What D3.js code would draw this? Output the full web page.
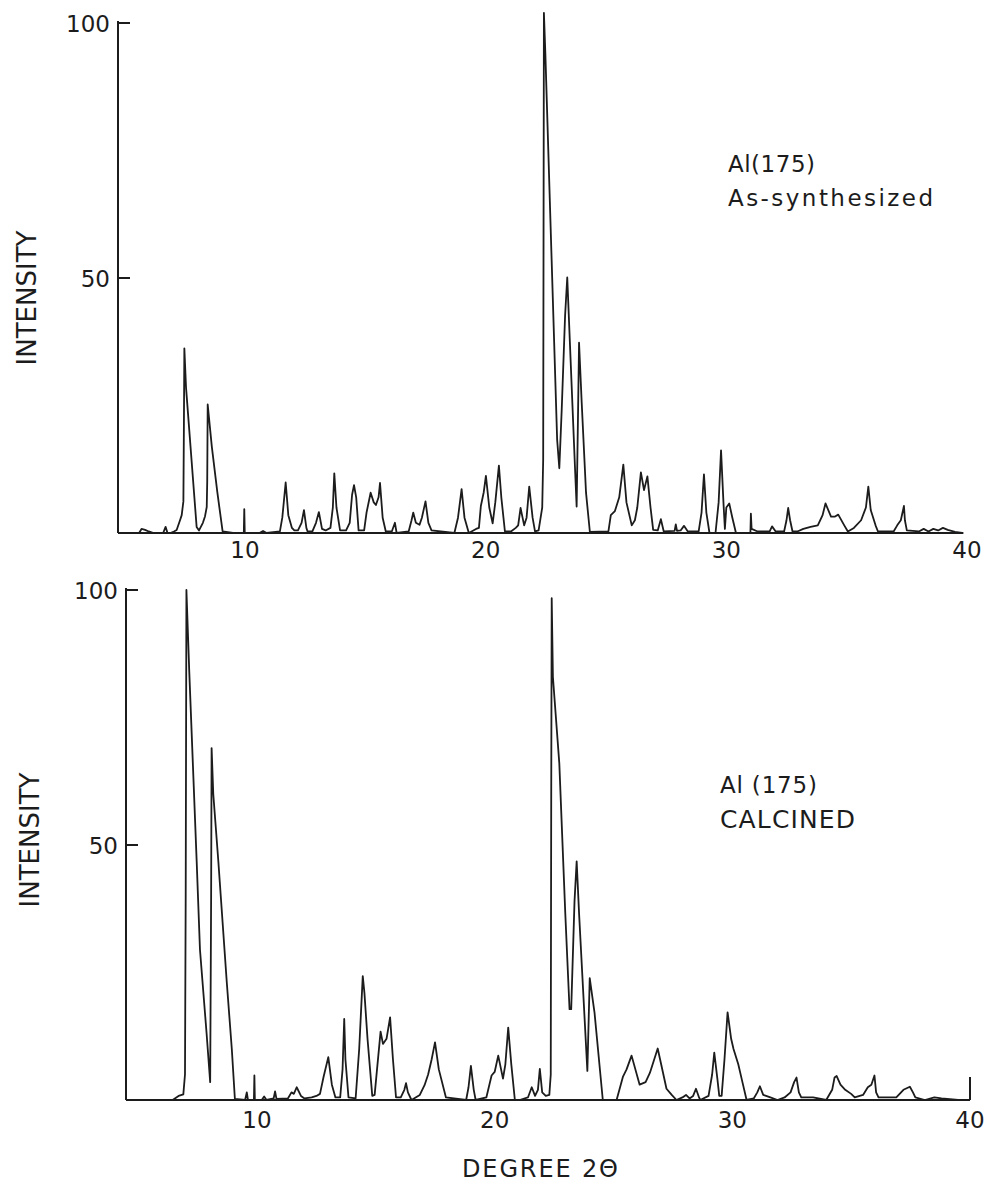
<!DOCTYPE html>
<html><head><meta charset="utf-8">
<script src="https://cdn.jsdelivr.net/npm/d3@7"></script>
<style>body{margin:0;background:#fff}svg{display:block}</style>
</head><body>
<svg id="chart" width="993" height="1184"></svg>
<script>
// ---- data (2-theta in degrees, relative intensity) ----
const xTickValues = [10, 20, 30, 40];
const yTickValues = [50, 100];

const asSynthesized = [
 [4.9,0],[5.6,0],[5.7,0.8],[5.85,0.6],[6.0,0.3],[6.2,0],[6.6,0],[6.7,1.2],[6.78,0],[6.9,0],
 [7.05,0.3],[7.16,0.6],[7.3,2.5],[7.37,3.5],[7.44,6.2],[7.46,20],[7.48,36.2],[7.55,28.5],[7.99,1.2],[8.09,0.5],[8.25,2],[8.34,3.3],[8.41,5.1],[8.43,10],[8.45,25.2],[8.62,17],[8.85,8],[9.07,0.3],
 [9.5,0],[9.95,0],[9.97,4.7],[9.99,0],[10.6,0],[10.75,0.4],[10.9,0],[11.45,0.3],
 [11.55,3],[11.69,9.9],[11.8,3.5],[11.95,1],[12.05,0.5],
 [12.2,0.5],[12.35,2],[12.45,4.5],[12.55,1],[12.6,0.3],
 [12.8,0.3],[12.95,2],[13.07,4.1],[13.2,0.8],[13.35,0.5],
 [13.55,1],[13.65,5],[13.71,11.7],[13.8,5],[13.95,0.5],
 [14.2,0.5],[14.35,2],[14.45,7.5],[14.53,9.4],[14.62,7],[14.72,0.5],
 [14.95,0.5],[15.05,4],[15.22,7.9],[15.35,6],[15.44,5.5],[15.55,7],[15.61,9.8],[15.72,3],[15.85,0.3],
 [16.1,0.3],[16.23,2],[16.3,0],
 [16.8,0.3],[16.92,2.5],[16.99,4],[17.1,2],[17.25,1.6],[17.35,3],[17.5,6.2],[17.62,2],[17.75,0.5],
 [18.7,0],[18.85,3],[19.0,8.6],[19.12,3],[19.3,0],
 [19.6,0.8],[19.72,1],[19.8,5.3],[19.92,8],[20.01,11.2],[20.15,5],[20.29,1.9],[20.4,6],[20.55,13.2],[20.65,7],[20.8,0.3],
 [21.05,0.3],[21.25,1],[21.35,1.5],[21.45,4.9],[21.6,1.5],[21.7,3],[21.81,9.1],[21.95,3],[22.05,0.3],
 [22.2,0.5],[22.35,5],[22.39,14.4],[22.42,102],[22.48,94],[22.74,53.7],[22.97,18.3],[23.06,12.7],
 [23.16,24.2],[23.3,42.6],[23.39,50.1],[23.5,37.3],[23.71,13],[23.78,5.2],[23.84,24],[23.88,37.3],[23.99,25.6],[24.17,7.9],[24.33,0.2],
 [25.1,0.3],[25.2,3.5],[25.37,4.3],[25.55,7],[25.72,13.4],[25.85,6],[26.07,1.5],[26.2,2.5],[26.3,5],[26.45,11.9],[26.58,8.4],[26.72,11.1],[26.85,5],[26.96,0.6],
 [27.15,0.5],[27.28,2.7],[27.4,0.3],
 [27.85,0.4],[27.9,1.7],[27.95,0.4],[28.1,0.5],[28.24,1.4],[28.4,0.3],
 [28.85,0.3],[28.97,4],[29.07,11.5],[29.17,4],[29.3,0],
 [29.55,0],[29.68,6],[29.78,16.2],[29.88,6],[29.94,0.8],[30.0,5],[30.12,5.8],[30.25,3],[30.4,0],
 [31.0,0],[31.02,3.8],[31.05,0.8],[31.3,0.3],[31.8,0.3],[31.9,1.3],[32.05,0.3],
 [32.4,0.3],[32.5,2.5],[32.57,4.9],[32.65,2.5],[32.75,0.3],
 [32.95,0.3],[33.2,0.8],[33.5,1.2],[33.8,1.5],[34.0,3.5],[34.12,5.8],[34.35,3.2],[34.5,3.2],[34.65,3.6],[34.9,1.5],[35.05,0.3],
 [35.3,1],[35.6,2.5],[35.8,5],[35.9,9.1],[36.0,4.5],[36.2,1.5],[36.3,0.3],
 [36.95,0.3],[37.1,1.5],[37.25,2.5],[37.38,5.3],[37.42,2.5],[37.5,0.5],
 [38.0,0.3],[38.2,0.8],[38.4,0.3],[38.6,0.8],[38.8,0.5],[39.0,1],[39.2,0.6],[39.5,0.2],[39.8,0]
];

const calcined = [
 [4.8,0],[6.45,0],[6.7,0.8],[6.9,1.1],[6.97,5],[7.0,40],[7.03,100],[7.15,84],[7.46,47],[7.6,29.5],[7.88,13],[8.03,3.5],[8.07,40],[8.09,69],[8.16,60],[8.37,47],[8.73,23],[8.94,10],[9.07,0.2],
 [9.5,0],[9.57,1.5],[9.62,0],[9.87,0],[9.89,4.8],[9.91,0],[10.2,0],[10.3,0.7],[10.4,0],[10.7,0.3],[10.76,1.7],[10.82,0.2],
 [11.3,0.3],[11.45,1.5],[11.55,1.2],[11.67,2.5],[11.85,0.8],[12.0,0.3],
 [12.3,0.5],[12.5,0.8],[12.65,1.2],[12.8,4.5],[13.0,8.4],[13.15,3],[13.3,0.5],
 [13.5,0.5],[13.6,6],[13.67,15.9],[13.72,8],[13.85,0.5],
 [14.15,0.3],[14.3,10],[14.45,24.3],[14.52,21],[14.65,12],[14.85,0.8],
 [14.95,1],[15.05,6],[15.2,13.4],[15.3,11],[15.45,12],[15.6,16.2],[15.72,8],[15.85,0.5],
 [16.05,0.5],[16.2,2],[16.27,3.3],[16.35,1.5],[16.5,0],
 [16.85,1],[17.05,2.9],[17.2,5],[17.35,8],[17.49,11.3],[17.65,6],[17.95,0.5],
 [18.8,0],[18.9,2.5],[19.0,6.7],[19.12,2],[19.2,0],
 [19.65,0.5],[19.87,4.8],[20.0,5.5],[20.15,8.7],[20.35,4.2],[20.45,7],[20.57,14.2],[20.7,7],[20.85,0],
 [21.05,0],[21.4,0.5],[21.56,2.5],[21.7,0.8],[21.82,2],[21.9,6.1],[22.0,1.5],[22.15,0.8],[22.3,1],
 [22.36,5],[22.38,60],[22.4,98.4],[22.45,83],[22.72,66],[22.97,36.7],[23.15,17.8],[23.22,17.8],[23.36,39],[23.45,46.8],[23.55,36.7],[23.9,5.7],[24.0,23.9],[24.2,17.2],[24.55,0],
 [25.13,0],[25.4,4.6],[25.55,6],[25.76,8.7],[26.1,3],[26.35,3.5],[26.53,5.3],[26.86,10.1],[27.23,2.2],[27.45,1],[27.65,0],
 [27.9,0.5],[28.05,1],[28.2,0.3],[28.35,0.8],[28.47,2.2],[28.6,0.5],[28.65,0],
 [29.0,0.8],[29.15,5],[29.24,9.3],[29.37,4.2],[29.45,0.8],[29.55,0.8],[29.67,8],[29.8,17.2],[29.95,12],[30.05,10],[30.25,7],[30.4,4],[30.6,0],
 [30.9,0.3],[31.05,1.5],[31.16,2.7],[31.3,1],[31.6,0.5],[31.9,0],
 [32.2,0.5],[32.45,1.5],[32.6,3.5],[32.7,4.4],[32.8,1.5],[32.9,0.5],
 [33.2,0.5],[33.4,0.5],
 [33.95,0],[34.2,2],[34.3,4.4],[34.39,4.7],[34.55,3],[34.75,2],[35.0,1.2],[35.15,0.5],
 [35.5,1],[35.7,2.5],[35.85,3],[35.98,4.8],[36.05,1.5],[36.15,0.5],
 [36.9,0.5],[37.2,2],[37.47,2.6],[37.6,1.5],[37.7,0.5],
 [38.1,0],[38.5,0.5],[38.8,0.3],[39.5,0],[40.0,0]
];

// ---- drawing ----
const svg = d3.select("#chart");
const ink = "#1c1c1c";
const FONT = "'DejaVu Sans', sans-serif";

function panel(cfg) {
  const x = d3.scaleLinear().domain([10, 40]).range(cfg.xRange);
  const y = d3.scaleLinear().domain([0, 100]).range(cfg.yRange);
  const g = svg.append("g");

  g.append("line").attr("x1", cfg.axisX).attr("x2", cfg.axisX)
    .attr("y1", y(100) - 2).attr("y2", y(0))
    .attr("stroke", ink).attr("stroke-width", 2);
  g.append("line").attr("x1", cfg.axisX).attr("x2", x(cfg.xEnd))
    .attr("y1", y(0)).attr("y2", y(0))
    .attr("stroke", ink).attr("stroke-width", 2);
  if (cfg.endTick) {
    g.append("line").attr("x1", x(40)).attr("x2", x(40))
      .attr("y1", y(0)).attr("y2", y(cfg.endTick))
      .attr("stroke", ink).attr("stroke-width", 2);
  }
  yTickValues.forEach(v => {
    g.append("line").attr("x1", cfg.axisX).attr("x2", cfg.axisX + 12)
      .attr("y1", y(v)).attr("y2", y(v))
      .attr("stroke", ink).attr("stroke-width", 2);
    g.append("text").attr("x", cfg.axisX - 8).attr("y", y(v) + 9)
      .attr("text-anchor", "end").attr("font-family", FONT).attr("font-size", 23)
      .attr("fill", ink).text(v);
  });
  xTickValues.forEach(v => {
    g.append("text").attr("x", x(v)).attr("y", cfg.xLabelY)
      .attr("text-anchor", "middle").attr("font-family", FONT).attr("font-size", 23)
      .attr("fill", ink).text(v);
  });
  const line = d3.line().x(d => x(d[0])).y(d => y(d[1]));
  g.append("path").datum(cfg.data).attr("d", line)
    .attr("fill", "none").attr("stroke", ink).attr("stroke-width", 1.8)
    .attr("stroke-linejoin", "round");
  g.append("text").attr("transform", `translate(${cfg.titleX},${cfg.titleY}) rotate(-90)`)
    .attr("text-anchor", "middle").attr("dominant-baseline", "central")
    .attr("font-family", FONT).attr("font-size", 26).attr("fill", ink)
    .text("INTENSITY");
  cfg.labels.forEach(l => {
    const t = g.append("text").attr("x", l.x).attr("y", l.y)
      .attr("font-family", FONT).attr("font-size", l.size).attr("fill", ink).text(l.text);
    if (l.len) t.attr("textLength", l.len).attr("lengthAdjust", "spacing");
  });
}

panel({
  xRange: [245, 967], yRange: [533, 23], axisX: 118, xEnd: 39.85,
  xLabelY: 558, data: asSynthesized, titleX: 27, titleY: 298,
  labels: [
    {text: "Al(175)", x: 728, y: 172, size: 23, len: 87},
    {text: "As-synthesized", x: 728, y: 206, size: 23, len: 205}
  ]
});

panel({
  xRange: [257, 970], yRange: [1100, 590], axisX: 126, xEnd: 40, endTick: 4.5,
  xLabelY: 1128, data: calcined, titleX: 30, titleY: 840,
  labels: [
    {text: "Al (175)", x: 720, y: 793, size: 23, len: 97},
    {text: "CALCINED", x: 720, y: 828, size: 25, len: 135}
  ]
});

svg.append("text").attr("x", 540).attr("y", 1177).attr("text-anchor", "middle")
  .attr("font-family", FONT).attr("font-size", 24).attr("fill", ink)
  .attr("textLength", 156).attr("lengthAdjust", "spacing")
  .text("DEGREE 2Θ");
</script>
</body></html>
